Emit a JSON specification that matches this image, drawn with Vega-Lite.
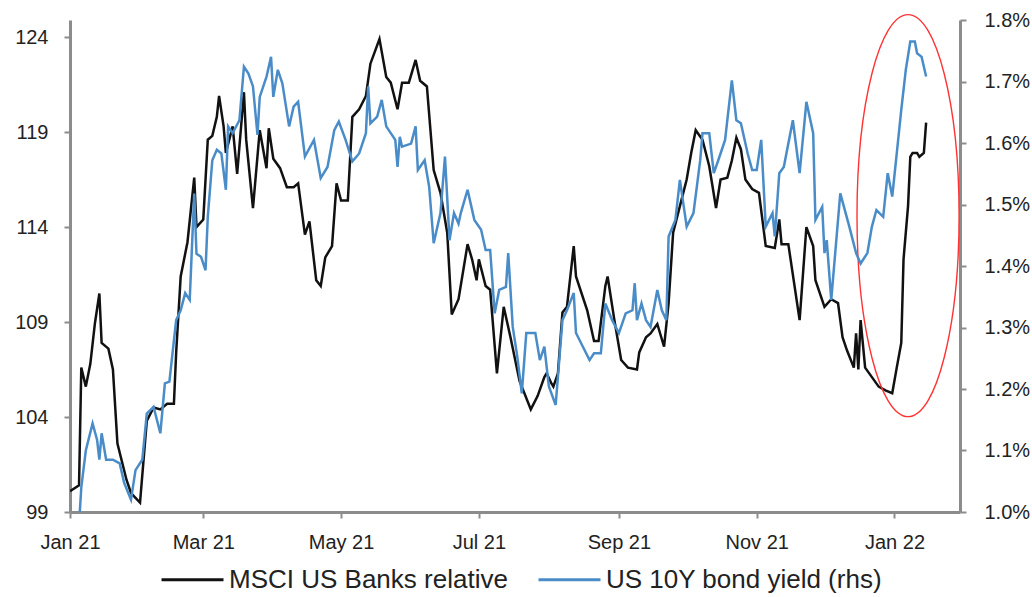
{
  "$schema": "https://vega.github.io/schema/vega-lite/v6.json",
  "width": 890,
  "height": 492,
  "autosize": {"type": "none"},
  "padding": {"left": 70, "top": 20, "right": 72, "bottom": 85},
  "background": "white",
  "config": {
    "view": {"stroke": null},
    "font": "Liberation Sans",
    "axis": {"labelFont": "Liberation Sans", "labelColor": "#222222", "labelFontSize": 20, "domainColor": "#8c8c8c", "domainWidth": 3, "tickColor": "#8c8c8c", "tickWidth": 2, "tickSize": 6, "grid": false, "title": null},
    "legend": {"labelFont": "Liberation Sans"}
  },
  "datasets": {
    "banks": [
      {"d": "2021-01-01", "v": 100.1}, {"d": "2021-01-05", "v": 100.4}, {"d": "2021-01-06", "v": 106.6}, {"d": "2021-01-08", "v": 105.6},
      {"d": "2021-01-10", "v": 106.8}, {"d": "2021-01-12", "v": 108.9}, {"d": "2021-01-14", "v": 110.5}, {"d": "2021-01-15", "v": 107.9},
      {"d": "2021-01-18", "v": 107.6}, {"d": "2021-01-20", "v": 106.5}, {"d": "2021-01-22", "v": 102.6}, {"d": "2021-01-26", "v": 100.7},
      {"d": "2021-01-28", "v": 100.0}, {"d": "2021-02-01", "v": 99.5}, {"d": "2021-02-04", "v": 103.8}, {"d": "2021-02-07", "v": 104.5},
      {"d": "2021-02-10", "v": 104.4}, {"d": "2021-02-13", "v": 104.7}, {"d": "2021-02-16", "v": 104.7}, {"d": "2021-02-17", "v": 107.4},
      {"d": "2021-02-19", "v": 111.4}, {"d": "2021-02-22", "v": 113.2}, {"d": "2021-02-25", "v": 116.6}, {"d": "2021-02-26", "v": 114.0},
      {"d": "2021-03-01", "v": 114.4}, {"d": "2021-03-03", "v": 118.6}, {"d": "2021-03-05", "v": 118.8}, {"d": "2021-03-07", "v": 119.8},
      {"d": "2021-03-08", "v": 120.9}, {"d": "2021-03-10", "v": 119.3}, {"d": "2021-03-11", "v": 117.9}, {"d": "2021-03-14", "v": 119.3},
      {"d": "2021-03-16", "v": 116.8}, {"d": "2021-03-19", "v": 121.1}, {"d": "2021-03-20", "v": 118.6}, {"d": "2021-03-23", "v": 115.0},
      {"d": "2021-03-26", "v": 119.1}, {"d": "2021-03-29", "v": 117.1}, {"d": "2021-03-30", "v": 119.2}, {"d": "2021-04-01", "v": 117.6},
      {"d": "2021-04-04", "v": 117.1}, {"d": "2021-04-07", "v": 116.1}, {"d": "2021-04-10", "v": 116.1}, {"d": "2021-04-12", "v": 116.3},
      {"d": "2021-04-15", "v": 113.6}, {"d": "2021-04-17", "v": 114.3}, {"d": "2021-04-20", "v": 111.2}, {"d": "2021-04-22", "v": 110.9},
      {"d": "2021-04-24", "v": 112.4}, {"d": "2021-04-27", "v": 113.0}, {"d": "2021-04-29", "v": 116.3}, {"d": "2021-05-01", "v": 115.4},
      {"d": "2021-05-04", "v": 115.4}, {"d": "2021-05-06", "v": 119.8}, {"d": "2021-05-09", "v": 120.2}, {"d": "2021-05-12", "v": 120.9},
      {"d": "2021-05-14", "v": 122.6}, {"d": "2021-05-18", "v": 123.9}, {"d": "2021-05-21", "v": 121.9}, {"d": "2021-05-23", "v": 121.6},
      {"d": "2021-05-26", "v": 120.2}, {"d": "2021-05-28", "v": 121.6}, {"d": "2021-05-31", "v": 121.6}, {"d": "2021-06-03", "v": 122.8},
      {"d": "2021-06-05", "v": 121.7}, {"d": "2021-06-08", "v": 121.4}, {"d": "2021-06-11", "v": 117.0}, {"d": "2021-06-14", "v": 115.8},
      {"d": "2021-06-17", "v": 113.7}, {"d": "2021-06-19", "v": 109.4}, {"d": "2021-06-22", "v": 110.2}, {"d": "2021-06-26", "v": 113.1},
      {"d": "2021-06-28", "v": 112.3}, {"d": "2021-06-30", "v": 111.2}, {"d": "2021-07-01", "v": 112.3}, {"d": "2021-07-04", "v": 110.9},
      {"d": "2021-07-06", "v": 110.7}, {"d": "2021-07-09", "v": 106.3}, {"d": "2021-07-12", "v": 109.8}, {"d": "2021-07-15", "v": 108.2},
      {"d": "2021-07-19", "v": 105.9}, {"d": "2021-07-24", "v": 104.4}, {"d": "2021-07-27", "v": 105.1}, {"d": "2021-07-30", "v": 106.1},
      {"d": "2021-07-31", "v": 106.3}, {"d": "2021-08-02", "v": 105.8}, {"d": "2021-08-03", "v": 105.6}, {"d": "2021-08-05", "v": 106.3},
      {"d": "2021-08-07", "v": 109.5}, {"d": "2021-08-09", "v": 109.8}, {"d": "2021-08-12", "v": 113.0}, {"d": "2021-08-13", "v": 111.4},
      {"d": "2021-08-18", "v": 109.6}, {"d": "2021-08-21", "v": 108.0}, {"d": "2021-08-23", "v": 108.0}, {"d": "2021-08-26", "v": 110.9},
      {"d": "2021-08-27", "v": 111.4}, {"d": "2021-08-30", "v": 109.1}, {"d": "2021-09-02", "v": 107.0}, {"d": "2021-09-05", "v": 106.6},
      {"d": "2021-09-09", "v": 106.5}, {"d": "2021-09-10", "v": 107.4}, {"d": "2021-09-13", "v": 108.2}, {"d": "2021-09-15", "v": 108.4},
      {"d": "2021-09-18", "v": 108.9}, {"d": "2021-09-21", "v": 107.7}, {"d": "2021-09-23", "v": 110.0}, {"d": "2021-09-25", "v": 113.7},
      {"d": "2021-09-28", "v": 115.1}, {"d": "2021-10-01", "v": 116.5}, {"d": "2021-10-03", "v": 117.9}, {"d": "2021-10-05", "v": 119.1},
      {"d": "2021-10-08", "v": 118.6}, {"d": "2021-10-11", "v": 117.2}, {"d": "2021-10-14", "v": 115.0}, {"d": "2021-10-16", "v": 116.5},
      {"d": "2021-10-19", "v": 116.6}, {"d": "2021-10-21", "v": 117.5}, {"d": "2021-10-23", "v": 118.7}, {"d": "2021-10-25", "v": 118.1},
      {"d": "2021-10-27", "v": 116.5}, {"d": "2021-10-30", "v": 116.0}, {"d": "2021-11-02", "v": 115.8}, {"d": "2021-11-05", "v": 113.0},
      {"d": "2021-11-09", "v": 112.9}, {"d": "2021-11-11", "v": 114.4}, {"d": "2021-11-12", "v": 113.1}, {"d": "2021-11-15", "v": 113.1},
      {"d": "2021-11-20", "v": 109.1}, {"d": "2021-11-23", "v": 114.0}, {"d": "2021-11-26", "v": 113.0}, {"d": "2021-11-27", "v": 111.2},
      {"d": "2021-12-01", "v": 109.8}, {"d": "2021-12-04", "v": 110.2}, {"d": "2021-12-07", "v": 110.0}, {"d": "2021-12-09", "v": 108.2},
      {"d": "2021-12-11", "v": 107.5}, {"d": "2021-12-14", "v": 106.6}, {"d": "2021-12-15", "v": 108.4}, {"d": "2021-12-16", "v": 106.5},
      {"d": "2021-12-17", "v": 109.1}, {"d": "2021-12-19", "v": 106.6}, {"d": "2021-12-22", "v": 106.1}, {"d": "2021-12-25", "v": 105.6},
      {"d": "2021-12-28", "v": 105.4}, {"d": "2021-12-31", "v": 105.25}, {"d": "2022-01-02", "v": 106.6}, {"d": "2022-01-04", "v": 107.9},
      {"d": "2022-01-05", "v": 112.3}, {"d": "2022-01-07", "v": 115.1}, {"d": "2022-01-08", "v": 117.7}, {"d": "2022-01-09", "v": 117.9},
      {"d": "2022-01-11", "v": 117.9}, {"d": "2022-01-12", "v": 117.7}, {"d": "2022-01-14", "v": 117.9}, {"d": "2022-01-15", "v": 119.5}
    ],
    "yield": [
      {"d": "2021-01-04", "v": 0.92}, {"d": "2021-01-06", "v": 1.04}, {"d": "2021-01-08", "v": 1.10}, {"d": "2021-01-11", "v": 1.144},
      {"d": "2021-01-13", "v": 1.117}, {"d": "2021-01-14", "v": 1.085}, {"d": "2021-01-15", "v": 1.128}, {"d": "2021-01-17", "v": 1.085},
      {"d": "2021-01-20", "v": 1.085}, {"d": "2021-01-23", "v": 1.079}, {"d": "2021-01-25", "v": 1.047}, {"d": "2021-01-28", "v": 1.02},
      {"d": "2021-01-30", "v": 1.068}, {"d": "2021-02-02", "v": 1.085}, {"d": "2021-02-04", "v": 1.16}, {"d": "2021-02-07", "v": 1.171},
      {"d": "2021-02-10", "v": 1.128}, {"d": "2021-02-12", "v": 1.209}, {"d": "2021-02-14", "v": 1.212}, {"d": "2021-02-17", "v": 1.312},
      {"d": "2021-02-19", "v": 1.328}, {"d": "2021-02-21", "v": 1.356}, {"d": "2021-02-23", "v": 1.345}, {"d": "2021-02-25", "v": 1.518},
      {"d": "2021-02-26", "v": 1.42}, {"d": "2021-02-28", "v": 1.415}, {"d": "2021-03-02", "v": 1.393}, {"d": "2021-03-03", "v": 1.48},
      {"d": "2021-03-05", "v": 1.572}, {"d": "2021-03-07", "v": 1.589}, {"d": "2021-03-09", "v": 1.583}, {"d": "2021-03-11", "v": 1.524},
      {"d": "2021-03-12", "v": 1.627}, {"d": "2021-03-14", "v": 1.616}, {"d": "2021-03-17", "v": 1.637}, {"d": "2021-03-19", "v": 1.724},
      {"d": "2021-03-21", "v": 1.713}, {"d": "2021-03-23", "v": 1.692}, {"d": "2021-03-25", "v": 1.613}, {"d": "2021-03-26", "v": 1.675},
      {"d": "2021-03-29", "v": 1.708}, {"d": "2021-03-31", "v": 1.74}, {"d": "2021-04-01", "v": 1.675}, {"d": "2021-04-03", "v": 1.719},
      {"d": "2021-04-05", "v": 1.697}, {"d": "2021-04-08", "v": 1.627}, {"d": "2021-04-10", "v": 1.659}, {"d": "2021-04-12", "v": 1.667},
      {"d": "2021-04-15", "v": 1.578}, {"d": "2021-04-19", "v": 1.605}, {"d": "2021-04-22", "v": 1.543}, {"d": "2021-04-25", "v": 1.561},
      {"d": "2021-04-28", "v": 1.621}, {"d": "2021-04-30", "v": 1.635}, {"d": "2021-05-03", "v": 1.605}, {"d": "2021-05-06", "v": 1.57},
      {"d": "2021-05-09", "v": 1.583}, {"d": "2021-05-12", "v": 1.616}, {"d": "2021-05-13", "v": 1.692}, {"d": "2021-05-14", "v": 1.632},
      {"d": "2021-05-17", "v": 1.643}, {"d": "2021-05-19", "v": 1.67}, {"d": "2021-05-21", "v": 1.627}, {"d": "2021-05-25", "v": 1.605},
      {"d": "2021-05-26", "v": 1.561}, {"d": "2021-05-27", "v": 1.61}, {"d": "2021-05-28", "v": 1.594}, {"d": "2021-06-01", "v": 1.599},
      {"d": "2021-06-03", "v": 1.627}, {"d": "2021-06-04", "v": 1.556}, {"d": "2021-06-07", "v": 1.572}, {"d": "2021-06-09", "v": 1.529},
      {"d": "2021-06-11", "v": 1.437}, {"d": "2021-06-14", "v": 1.486}, {"d": "2021-06-16", "v": 1.578}, {"d": "2021-06-18", "v": 1.442},
      {"d": "2021-06-20", "v": 1.486}, {"d": "2021-06-22", "v": 1.469}, {"d": "2021-06-23", "v": 1.486}, {"d": "2021-06-26", "v": 1.524},
      {"d": "2021-06-29", "v": 1.475}, {"d": "2021-07-02", "v": 1.459}, {"d": "2021-07-04", "v": 1.426}, {"d": "2021-07-06", "v": 1.426},
      {"d": "2021-07-08", "v": 1.323}, {"d": "2021-07-10", "v": 1.361}, {"d": "2021-07-13", "v": 1.366}, {"d": "2021-07-14", "v": 1.421},
      {"d": "2021-07-16", "v": 1.301}, {"d": "2021-07-18", "v": 1.253}, {"d": "2021-07-20", "v": 1.193}, {"d": "2021-07-22", "v": 1.291},
      {"d": "2021-07-26", "v": 1.291}, {"d": "2021-07-28", "v": 1.247}, {"d": "2021-07-30", "v": 1.269}, {"d": "2021-08-01", "v": 1.204},
      {"d": "2021-08-04", "v": 1.174}, {"d": "2021-08-07", "v": 1.312}, {"d": "2021-08-09", "v": 1.328}, {"d": "2021-08-12", "v": 1.356},
      {"d": "2021-08-13", "v": 1.291}, {"d": "2021-08-16", "v": 1.269}, {"d": "2021-08-19", "v": 1.247}, {"d": "2021-08-21", "v": 1.258},
      {"d": "2021-08-24", "v": 1.258}, {"d": "2021-08-26", "v": 1.339}, {"d": "2021-08-29", "v": 1.312}, {"d": "2021-09-01", "v": 1.291},
      {"d": "2021-09-04", "v": 1.323}, {"d": "2021-09-07", "v": 1.328}, {"d": "2021-09-08", "v": 1.372}, {"d": "2021-09-09", "v": 1.312},
      {"d": "2021-09-11", "v": 1.339}, {"d": "2021-09-13", "v": 1.312}, {"d": "2021-09-15", "v": 1.301}, {"d": "2021-09-18", "v": 1.361},
      {"d": "2021-09-20", "v": 1.328}, {"d": "2021-09-22", "v": 1.312}, {"d": "2021-09-23", "v": 1.448}, {"d": "2021-09-26", "v": 1.475},
      {"d": "2021-09-28", "v": 1.54}, {"d": "2021-10-01", "v": 1.464}, {"d": "2021-10-04", "v": 1.486}, {"d": "2021-10-07", "v": 1.572},
      {"d": "2021-10-08", "v": 1.616}, {"d": "2021-10-11", "v": 1.616}, {"d": "2021-10-13", "v": 1.551}, {"d": "2021-10-15", "v": 1.572},
      {"d": "2021-10-18", "v": 1.605}, {"d": "2021-10-21", "v": 1.702}, {"d": "2021-10-23", "v": 1.637}, {"d": "2021-10-25", "v": 1.632},
      {"d": "2021-10-28", "v": 1.583}, {"d": "2021-10-30", "v": 1.556}, {"d": "2021-11-01", "v": 1.556}, {"d": "2021-11-03", "v": 1.605},
      {"d": "2021-11-05", "v": 1.464}, {"d": "2021-11-08", "v": 1.486}, {"d": "2021-11-09", "v": 1.448}, {"d": "2021-11-11", "v": 1.551},
      {"d": "2021-11-13", "v": 1.561}, {"d": "2021-11-17", "v": 1.637}, {"d": "2021-11-20", "v": 1.551}, {"d": "2021-11-23", "v": 1.667},
      {"d": "2021-11-26", "v": 1.616}, {"d": "2021-11-27", "v": 1.475}, {"d": "2021-11-30", "v": 1.496}, {"d": "2021-12-01", "v": 1.421},
      {"d": "2021-12-02", "v": 1.442}, {"d": "2021-12-04", "v": 1.345}, {"d": "2021-12-08", "v": 1.518}, {"d": "2021-12-12", "v": 1.464},
      {"d": "2021-12-15", "v": 1.421}, {"d": "2021-12-17", "v": 1.404}, {"d": "2021-12-20", "v": 1.421}, {"d": "2021-12-22", "v": 1.464},
      {"d": "2021-12-24", "v": 1.491}, {"d": "2021-12-27", "v": 1.48}, {"d": "2021-12-29", "v": 1.551}, {"d": "2021-12-31", "v": 1.513},
      {"d": "2022-01-02", "v": 1.583}, {"d": "2022-01-04", "v": 1.654}, {"d": "2022-01-06", "v": 1.719}, {"d": "2022-01-08", "v": 1.765},
      {"d": "2022-01-10", "v": 1.765}, {"d": "2022-01-11", "v": 1.746}, {"d": "2022-01-13", "v": 1.74}, {"d": "2022-01-15", "v": 1.708}
    ],
    "highlight": [
      {"d": "2022-01-07", "v": 114.6}
    ]
  },
  "encoding": {
    "x": {
      "field": "d",
      "type": "temporal",
      "scale": {"type": "utc", "domain": [{"year": 2021, "month": 1, "date": 1, "utc": true}, {"year": 2022, "month": 1, "date": 30, "utc": true}]},
      "axis": {
        "values": [
          {"year": 2021, "month": 1, "date": 1, "utc": true},
          {"year": 2021, "month": 3, "date": 1, "utc": true},
          {"year": 2021, "month": 5, "date": 1, "utc": true},
          {"year": 2021, "month": 7, "date": 1, "utc": true},
          {"year": 2021, "month": 9, "date": 1, "utc": true},
          {"year": 2021, "month": 11, "date": 1, "utc": true},
          {"year": 2022, "month": 1, "date": 1, "utc": true}
        ],
        "format": "%b %y",
        "labelFlush": false,
        "labelOverlap": false,
        "labelPadding": 14
      }
    }
  },
  "layer": [
    {
      "layer": [
        {
          "data": {"name": "banks"},
          "mark": {"type": "line", "strokeWidth": 2.5, "clip": true},
          "encoding": {
            "y": {
              "field": "v",
              "type": "quantitative",
              "scale": {"domain": [99, 124.9], "nice": false, "zero": false},
              "axis": {"orient": "left", "values": [99, 104, 109, 114, 119, 124], "labelPadding": 16}
            },
            "color": {
              "datum": "MSCI US Banks relative",
              "type": "nominal",
              "scale": {"domain": ["MSCI US Banks relative", "US 10Y bond yield (rhs)"], "range": ["#111111", "#4a8cc8"]},
              "legend": {
                "title": null,
                "orient": "none",
                "legendX": 90,
                "legendY": 527,
                "direction": "horizontal",
                "columns": 2,
                "columnPadding": 24,
                "symbolType": "stroke",
                "symbolSize": 3844,
                "symbolStrokeWidth": 3,
                "labelFontSize": 26,
                "labelColor": "#222222",
                "labelOffset": 4,
                "labelLimit": 400,
                "padding": 0
              }
            }
          }
        },
        {
          "data": {"name": "highlight"},
          "mark": {
            "type": "point",
            "shape": "M 0.254 0 C 0.254 0.5523 0.1403 1 0 1 C -0.1403 1 -0.254 0.5523 -0.254 0 C -0.254 -0.5523 -0.1403 -1 0 -1 C 0.1403 -1 0.254 -0.5523 0.254 0 Z",
            "size": 161604,
            "filled": false,
            "stroke": "#ff3333",
            "strokeWidth": 1.4,
            "opacity": 1,
            "clip": false
          },
          "encoding": {
            "y": {"field": "v", "type": "quantitative"}
          }
        }
      ]
    },
    {
      "data": {"name": "yield"},
      "mark": {"type": "line", "strokeWidth": 2.5, "clip": true},
      "encoding": {
        "y": {
          "field": "v",
          "type": "quantitative",
          "scale": {"domain": [1.0, 1.8], "nice": false, "zero": false},
          "axis": {"orient": "right", "values": [1.0, 1.1, 1.2, 1.3, 1.4, 1.5, 1.6, 1.7, 1.8], "labelExpr": "format(datum.value, '.1f') + '%'", "labelPadding": 18}
        },
        "color": {"datum": "US 10Y bond yield (rhs)", "type": "nominal"}
      }
    }
  ],
  "resolve": {"scale": {"y": "independent"}}
}
